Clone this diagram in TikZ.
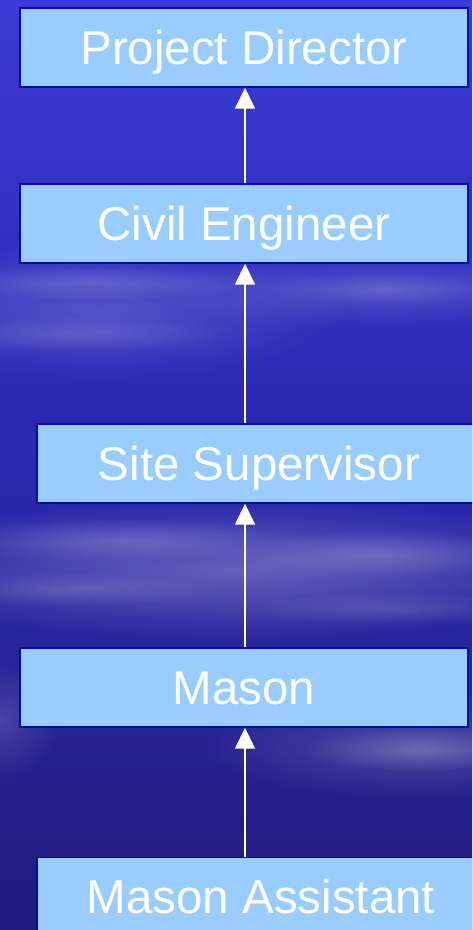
\documentclass[tikz,border=0pt]{standalone}
\usepackage{fontspec}
\setmainfont{Liberation Sans}
\usetikzlibrary{arrows.meta,fadings}

\definecolor{skytop}{HTML}{3A3AD6}
\definecolor{skymid}{HTML}{2B29B2}
\definecolor{skylow}{HTML}{28269A}
\definecolor{skybot}{HTML}{1F1B7C}
\definecolor{boxfill}{HTML}{99CCFF}
\definecolor{boxline}{HTML}{0A0AA6}

\tikzfading[name=softedge, inner color=transparent!40, outer color=transparent!100]

\tikzset{
  rolebox/.style={draw=boxline, line width=1.4pt, fill=boxfill,
    minimum height=79pt, inner sep=0pt, text=white,
    text height=33pt, text depth=-1pt,
    font=\fontsize{47.5}{52}\selectfont},
  reports/.style={draw=white, line width=1.6pt,
    -{Triangle[width=20pt,length=21pt]}},
  streak/.style={fill=white, path fading=softedge}
}

\begin{document}
\begin{tikzpicture}[x=1pt,y=-1pt]
  \useasboundingbox (0,0) rectangle (472,930);
  \begin{scope}
    \clip (0,0) rectangle (472,930);
    % sky background
    \shade[top color=skytop, bottom color=skymid] (0,0) rectangle (472,420);
    \shade[top color=skymid, bottom color=skylow] (0,420) rectangle (472,650);
    \shade[top color=skylow, bottom color=skybot] (0,650) rectangle (472,930);
    % broad haze bands
    \fill[streak, opacity=0.30] (-150,240) rectangle (350,380);
    \fill[streak, opacity=0.25] (150,250) rectangle (620,330);
    \fill[streak, opacity=0.45] (-150,500) rectangle (620,640);
    \fill[streak, opacity=0.30] (200,690) rectangle (640,800);
    \fill[streak, opacity=0.25] (-60,660) rectangle (60,780);
    % cloud streaks
    \fill[streak, opacity=0.25] (-80,265) rectangle (260,300);
    \fill[streak, opacity=0.20] (250,272) rectangle (520,305);
    \fill[streak, opacity=0.22] (-80,316) rectangle (230,352);
    \fill[streak, opacity=0.30] (-60,518) rectangle (300,562);
    \fill[streak, opacity=0.32] (220,530) rectangle (540,578);
    \fill[streak, opacity=0.22] (-80,572) rectangle (220,606);
    \fill[streak, opacity=0.20] (240,592) rectangle (540,626);
    \fill[streak, opacity=0.30] (300,728) rectangle (540,772);

    % positions
    \node[rolebox, minimum width=448pt] (pd) at (244,47.5)  {Project Director};
    \node[rolebox, minimum width=448pt] (ce) at (244,223.5) {Civil Engineer};
    \node[rolebox, minimum width=444pt] (ss) at (259,463.5) {Site Supervisor};
    \node[rolebox, minimum width=448pt] (ms) at (244,687.5) {Mason};
    \node[rolebox, minimum width=448pt] (ma) at (261,897)   {Mason Assistant};
  \end{scope}

  % reporting lines
  \draw[reports] (ce.north -| 245,0) -- (pd.south -| 245,0);
  \draw[reports] (ss.north -| 245,0) -- (ce.south -| 245,0);
  \draw[reports] (ms.north -| 245,0) -- (ss.south -| 245,0);
  \draw[reports] (ma.north -| 245,0) -- (ms.south -| 245,0);
\end{tikzpicture}
\end{document}
